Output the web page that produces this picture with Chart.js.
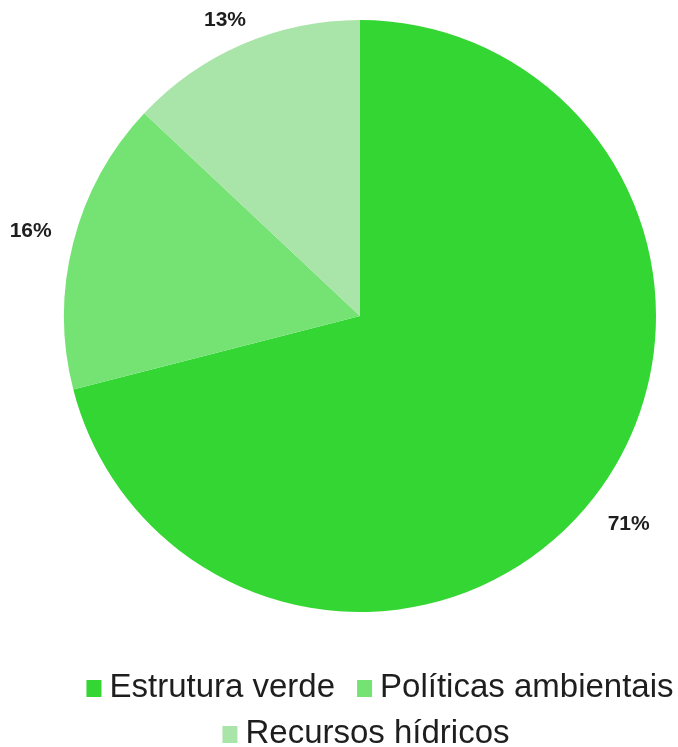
<!DOCTYPE html>
<html>
<head>
<meta charset="utf-8">
<script src="https://cdn.jsdelivr.net/npm/chart.js@4.4.1/dist/chart.umd.min.js"></script>
<style>
  html, body { margin: 0; padding: 0; background: #ffffff; }
  #wrap { width: 678px; height: 747px; position: relative; }
</style>
</head>
<body>
<div id="wrap"><canvas id="pie"></canvas></div>
<script>
// categories and values (percent)
const categories = ['Estrutura verde', 'Políticas ambientais', 'Recursos hídricos'];
const shares = [71, 16, 13];
const sliceColors = ['#33d633', '#74e374', '#a9e4a9'];

// legend wraps into two rows like the original
const legendRows = [[0, 1], [2]];
const legendRowShift = [20, 6];

const textColor = '#1e1e1e';

// percent labels outside each slice, along the slice's middle angle
const outsideLabels = {
    id: 'outsideLabels',
    afterDatasetsDraw(chart) {
        const ctx = chart.ctx;
        const meta = chart.getDatasetMeta(0);
        ctx.save();
        ctx.font = 'bold 21px "Liberation Sans", Arial, sans-serif';
        ctx.fillStyle = textColor;
        ctx.textAlign = 'center';
        ctx.textBaseline = 'middle';
        meta.data.forEach((arc, i) => {
            const p = arc.getProps(['x', 'y', 'startAngle', 'endAngle', 'outerRadius'], true);
            const mid = (p.startAngle + p.endAngle) / 2;
            const r = p.outerRadius + 44;
            let x = p.x + Math.cos(mid) * r;
            let y = p.y + Math.sin(mid) * r;
            y = Math.max(y, 20);
            ctx.fillText(shares[i] + '%', x, y);
        });
        ctx.restore();
    }
};

// legend drawn below the pie
const bottomLegend = {
    id: 'bottomLegend',
    afterDraw(chart) {
        const ctx = chart.ctx;
        const area = chart.chartArea;
        const cx = (area.left + area.right) / 2;
        const boxW = 15, boxH = 17, boxGap = 8, itemGap = 22;
        const firstBaseline = area.bottom + 85;
        const rowStep = 46;
        ctx.save();
        ctx.font = '33px "Liberation Sans", Arial, sans-serif';
        ctx.textBaseline = 'alphabetic';
        ctx.textAlign = 'left';
        legendRows.forEach((row, r) => {
            const widths = row.map(i => boxW + boxGap + ctx.measureText(categories[i]).width);
            const total = widths.reduce((a, b) => a + b, 0) + itemGap * (row.length - 1);
            let x = cx + legendRowShift[r] - total / 2;
            const base = firstBaseline + r * rowStep;
            row.forEach((i, k) => {
                ctx.fillStyle = sliceColors[i];
                ctx.fillRect(x, base - boxH, boxW, boxH);
                ctx.fillStyle = textColor;
                ctx.fillText(categories[i], x + boxW + boxGap, base);
                x += widths[k] + itemGap;
            });
        });
        ctx.restore();
    }
};

const chart = new Chart(document.getElementById('pie').getContext('2d'), {
    type: 'pie',
    data: {
        labels: categories,
        datasets: [{
            data: shares,
            backgroundColor: sliceColors,
            borderWidth: 0
        }]
    },
    options: {
        responsive: true,
        maintainAspectRatio: false,
        animation: false,
        layout: {
            padding: { top: 20, left: 64, right: 22, bottom: 135 }
        },
        plugins: {
            legend: { display: false },
            tooltip: { enabled: false }
        }
    },
    plugins: [outsideLabels, bottomLegend]
});
</script>
</body>
</html>
